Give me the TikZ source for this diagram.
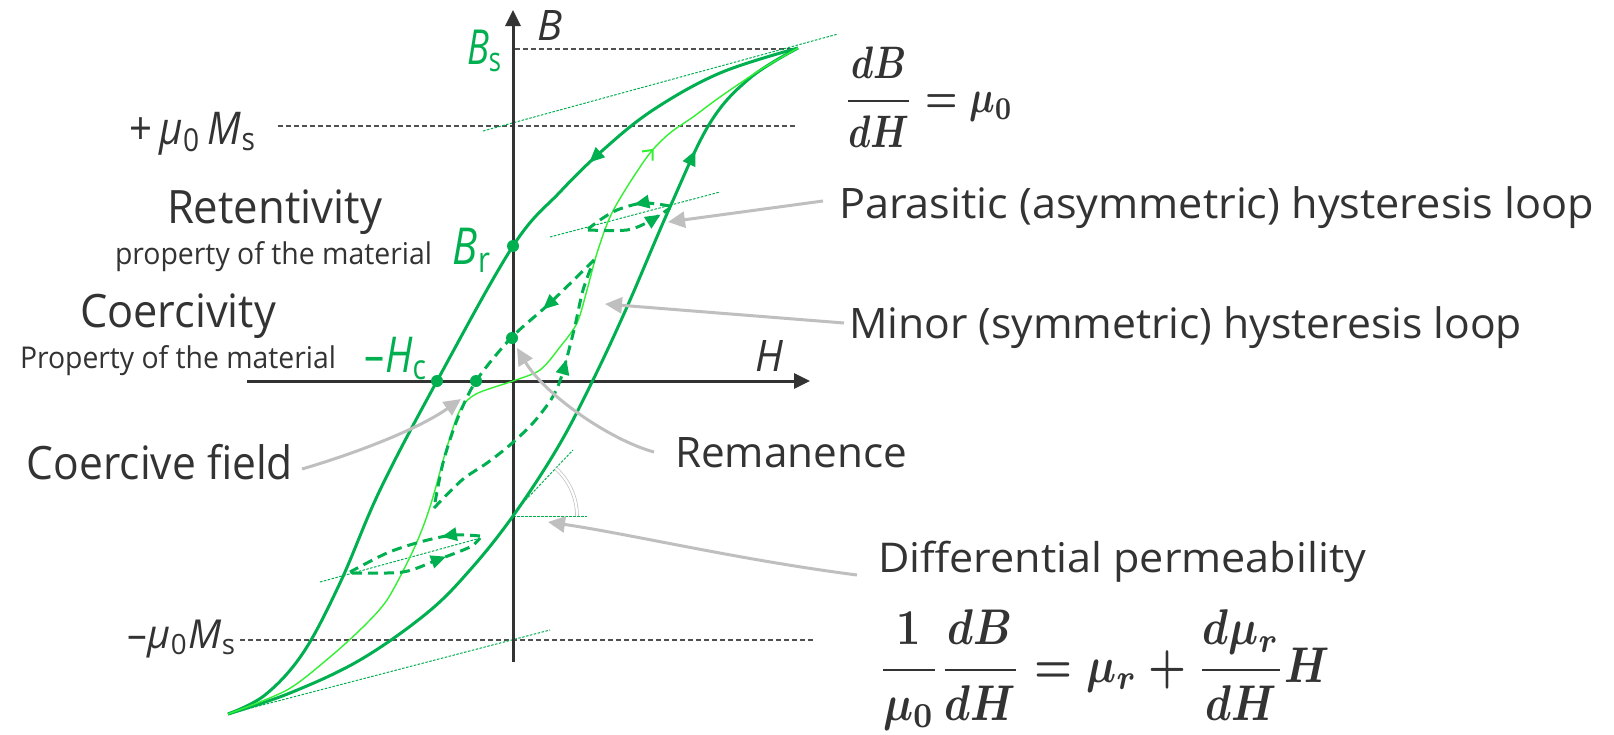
\documentclass[tikz,border=0pt]{standalone}
\usepackage{fontspec}
\setmainfont{Open Sans}
\usepackage{graphicx}
\usetikzlibrary{arrows.meta,decorations.markings}
\definecolor{grn}{RGB}{0,176,80}
\definecolor{lgrn}{RGB}{50,240,50}
\definecolor{txt}{RGB}{51,51,51}
\definecolor{gry}{RGB}{191,191,191}
\definecolor{axc}{RGB}{51,51,51}
\definecolor{dgray}{RGB}{80,80,80}
\begin{document}
\begin{tikzpicture}[x=1pt,y=-1pt,
  every node/.style={inner sep=0pt, outer sep=0pt},
  txtlbl/.style={text=txt},
  grnlbl/.style={text=grn},
  axisline/.style={draw=axc, line width=3pt, -{Triangle[length=16pt,width=15pt]}},
  guide/.style={draw=dgray, line width=1.1pt, dash pattern=on 5pt off 3pt},
  tangent/.style={draw=grn, line width=1pt, dash pattern=on 2.5pt off 1.5pt},
  majorloop/.style={draw=grn, line width=3pt},
  minorloop/.style={draw=grn, line width=3pt, dash pattern=on 10pt off 6pt},
  thincurve/.style={draw=lgrn, line width=1.4pt},
  pointer/.style={draw=gry, line width=3pt, -{Triangle[length=17pt,width=16pt]}},
  fwdtip/.style={postaction={decorate,decoration={markings,mark=at position #1 with {\fill[grn] (4pt,0pt) -- (-11pt,7pt) -- (-11pt,-7pt) -- cycle;}}}},
  barbs/.style 2 args={postaction={decorate,decoration={markings,
      mark=at position #1 with {\draw[lgrn, line width=2pt, solid] (-8pt,7pt) -- (0pt,0pt) -- (-8pt,-7pt);},
      mark=at position #2 with {\draw[lgrn, line width=2pt, solid] (8pt,7pt) -- (0pt,0pt) -- (8pt,-7pt);}}}},
]
\path[use as bounding box, fill=white] (0,0) rectangle (1614,734);

% guide lines
\draw[guide] (515,49) -- (793,49);
\draw[guide] (278,126) -- (797,126);
\draw[guide] (240,640) -- (813,640);

% tangents
\draw[tangent] (483,131) -- (838,34);
\draw[tangent] (228,714) -- (550,630);
\draw[tangent] (550,237) -- (720,192);
\draw[tangent] (320,582) -- (477,539);
\draw[tangent] (520,506) -- (573,450);
\draw[tangent] (513,516) -- (587,516);
\draw[gry, line width=0.7pt, double=white, double distance=2.2pt] (577,516) arc[start angle=0, end angle=-48, radius=64];

% axes
\draw[axisline] (513,662) -- (513,10);
\draw[axisline] (247,381) -- (810,381);

% major loop
\draw[majorloop, fwdtip=0.26] plot[smooth, tension=0.6] coordinates {(798,48) (720,73) (653,110) (603,150) (560,192) (513,246) (437,381) (380,490) (340,583) (303,653) (265,695) (228,714)};
\draw[majorloop, fwdtip=0.833] plot[smooth, tension=0.6] coordinates {(228,714) (290,693) (360,660) (427,613) (470,570) (513,516) (558,447) (593,380) (627,307) (670,207) (710,123) (750,78) (798,48)};

% thin curve
\draw[thincurve, barbs={0.807}{0.175}] plot[smooth] coordinates {(228,714) (287,690) (330,657) (363,627) (387,600) (410,557) (423,527) (433,497) (447,447) (460,410) (476,394) (513,381) (540,370) (560,347) (577,323) (587,290) (597,253) (610,217) (627,187) (650,153) (670,133) (693,117) (720,97) (760,70) (798,48)};

% minor symmetric loop
\draw[minorloop, fwdtip=0.22] plot[smooth] coordinates {(594,260) (550,303) (511,338) (476,381) (457,420) (443,463) (434,508)};
\draw[minorloop, fwdtip=0.65] plot[smooth] coordinates {(434,508) (462,480) (487,463) (510,445) (533,423) (552,398) (562,375) (574,330) (583,290) (594,260)};

% parasitic loop (upper)
\draw[minorloop, fwdtip=0.36] plot[smooth] coordinates {(670,206) (643,203) (617,210) (600,220) (588,229)};
\draw[minorloop, fwdtip=0.82] plot[smooth] coordinates {(588,230) (627,230) (650,221) (670,208)};
% parasitic loop (lower)
\draw[minorloop, fwdtip=0.25] plot[smooth] coordinates {(480,536) (453,535) (420,542) (387,553) (350,572)};
\draw[minorloop, fwdtip=0.68] plot[smooth] coordinates {(352,573) (403,572) (437,560) (470,547) (480,538)};

% dots
\fill[grn] (513,246) circle[radius=6pt];
\fill[grn] (437,381) circle[radius=6pt];
\fill[grn] (476,381) circle[radius=6pt];
\fill[grn] (512,338) circle[radius=6pt];

% labels
\node[txtlbl] (bax) at (549.5,25) {\resizebox*{25pt}{30pt}{\textit{B}}};
\node[txtlbl] (hax) at (769,355.5) {\resizebox*{28pt}{31pt}{\textit{H}}};
\node[grnlbl] (bs) at (485,51) {\resizebox*{36pt}{42pt}{\textit{B}\textsubscript{s}}};
\node[grnlbl] (br) at (472.5,250) {\resizebox*{39pt}{44pt}{\textit{B}\textsubscript{r}}};
\node[grnlbl] (hc) at (396.5,358.5) {\resizebox*{63pt}{43pt}{–\textit{H}\textsubscript{c}}};
\node[txtlbl] (mup) at (193.5,133.5) {\resizebox*{127pt}{43pt}{+\,\textit{μ}\textsubscript{0}\,\textit{M}\textsubscript{s}}};
\node[txtlbl] (mum) at (182.5,639) {\resizebox*{109pt}{38pt}{–\textit{μ}\textsubscript{0}\textit{M}\textsubscript{s}}};

\node[txtlbl, anchor=base west] (ret) at (167,223) {\resizebox{215pt}{\height}{\fontsize{46}{50}\selectfont Retentivity}};
\node[txtlbl, anchor=base west] (retp) at (115,264) {\resizebox{317pt}{\height}{\fontsize{30}{34}\selectfont property of the material}};
\node[txtlbl, anchor=base west] (coer) at (80,327) {\resizebox{196pt}{\height}{\fontsize{46}{50}\selectfont Coercivity}};
\node[txtlbl, anchor=base west] (coerp) at (20,368) {\resizebox{316pt}{\height}{\fontsize{30}{34}\selectfont Property of the material}};
\node[txtlbl, anchor=base west] (coe) at (27,479) {\resizebox{266pt}{\height}{\fontsize{46}{50}\selectfont Coercive field}};
\node[txtlbl, anchor=base west] (rem) at (675,467) {\resizebox{232pt}{\height}{\fontsize{42}{46}\selectfont Remanence}};
\node[txtlbl, anchor=base west] (par) at (839,218) {\resizebox{755pt}{\height}{\fontsize{42}{46}\selectfont Parasitic (asymmetric) hysteresis loop}};
\node[txtlbl, anchor=base west] (min) at (849,338) {\resizebox{673pt}{\height}{\fontsize{42}{46}\selectfont Minor (symmetric) hysteresis loop}};
\node[txtlbl, anchor=base west] (dif) at (878,572) {\resizebox{488pt}{\height}{\fontsize{41}{45}\selectfont Differential permeability}};
\node[txtlbl] (dbdh) at (928.5,97) {\resizebox*{169pt}{100pt}{\boldmath$\displaystyle\frac{dB}{dH}=\mu_0$}};
\node[txtlbl] (form) at (1104,670) {\resizebox*{452pt}{120pt}{\boldmath$\displaystyle\frac{1}{\mu_0}\frac{dB}{dH}=\mu_r+\frac{d\mu_r}{dH}H$}};

% pointer targets
\coordinate (tPar) at (668,222);
\coordinate (tMin) at (605,304);
\coordinate (tRem) at (517,348);
\coordinate (tCoe) at (461,399);
\coordinate (tDif) at (548,522);

\draw[pointer] ([shift={(-16,-17)}]par.base west) -- (tPar);
\draw[pointer] ([shift={(-5,-15)}]min.base west) -- (tMin);
\draw[pointer] ([shift={(-21,-15)}]rem.base west) .. controls (610,440) and (545,395) .. (tRem);
\draw[pointer] ([shift={(9,-10)}]coe.base east) .. controls (360,452) and (420,428) .. (tCoe);
\draw[pointer] ([shift={(-21,3)}]dif.base west) .. controls (740,560) and (630,534) .. (tDif);
\end{tikzpicture}
\end{document}
